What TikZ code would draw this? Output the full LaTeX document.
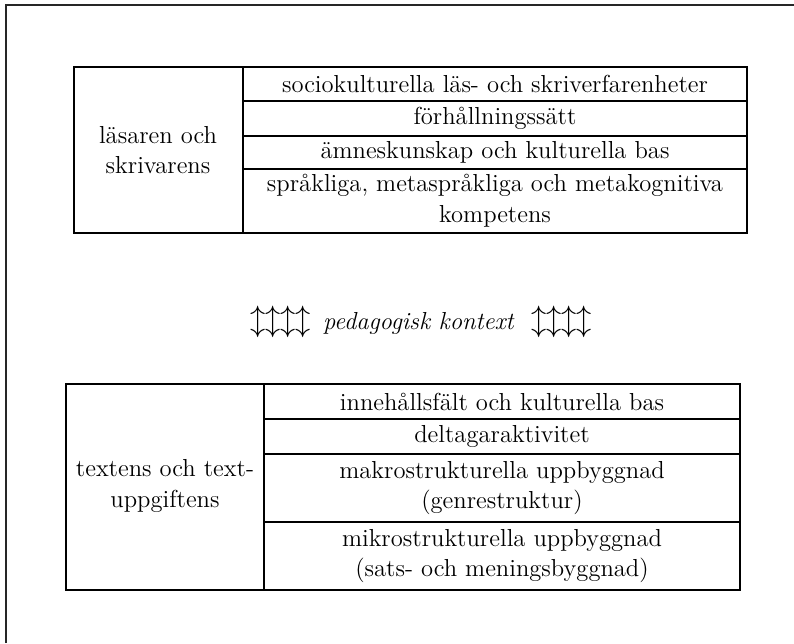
\documentclass[tikz,border=0pt]{standalone}
\usepackage{fontspec}
\begin{document}
\begin{tikzpicture}[x=0.02cm,y=-0.02cm,line join=miter,font=\fontsize{14}{17.5}\selectfont,
  rule/.style={line width=1.1pt},
  cell/.style={align=center,inner sep=0pt}]
\useasboundingbox (0,0) rectangle (794,643);
% outer frame, only left and top edge fall inside
	\draw[line width=1.3pt,black!85] (6,643)--(6,5)--(794,5);
% upper table
	\draw[rule] (74,67) rectangle (747,233);
	\draw[rule] (243,67)--(243,233);
	\foreach \y in {101,136,169} \draw[rule] (243,\y)--(747,\y);
	\node[cell] (reader) at (158,150) {läsaren och\\skrivarens};
	\node[cell] (socio) at (495,84) {sociokulturella läs- och skriverfarenheter};
	\node[cell] (attit) at (495,118.5) {förhållningssätt};
	\node[cell] (subj) at (495,152.5) {ämneskunskap och kulturella bas};
	\node[cell] (lang) at (495,201) {språkliga, metaspråkliga och metakognitiva\\kompetens};
% middle line
	\node (ctx) at (421,322) {{\fontsize{19}{19}\selectfont$\updownarrow\updownarrow\updownarrow\updownarrow$}\enspace\textit{pedagogisk kontext}\enspace\,{\fontsize{19}{19}\selectfont$\updownarrow\updownarrow\updownarrow\updownarrow$}};
% lower table
	\draw[rule] (66,384) rectangle (740,590);
	\draw[rule] (264,384)--(264,590);
	\foreach \y in {419,454,522} \draw[rule] (264,\y)--(740,\y);
	\node[cell] (text) at (165,486) {textens och text-\\uppgiftens};
	\node[cell] (cont) at (502,401.5) {innehållsfält och kulturella bas};
	\node[cell] (part) at (502,436.5) {deltagaraktivitet};
	\node[cell] (macro) at (502,488) {makrostrukturella uppbyggnad\\(genrestruktur)};
	\node[cell] (micro) at (502,556) {mikrostrukturella uppbyggnad\\(sats- och meningsbyggnad)};
\end{tikzpicture}
\end{document}
